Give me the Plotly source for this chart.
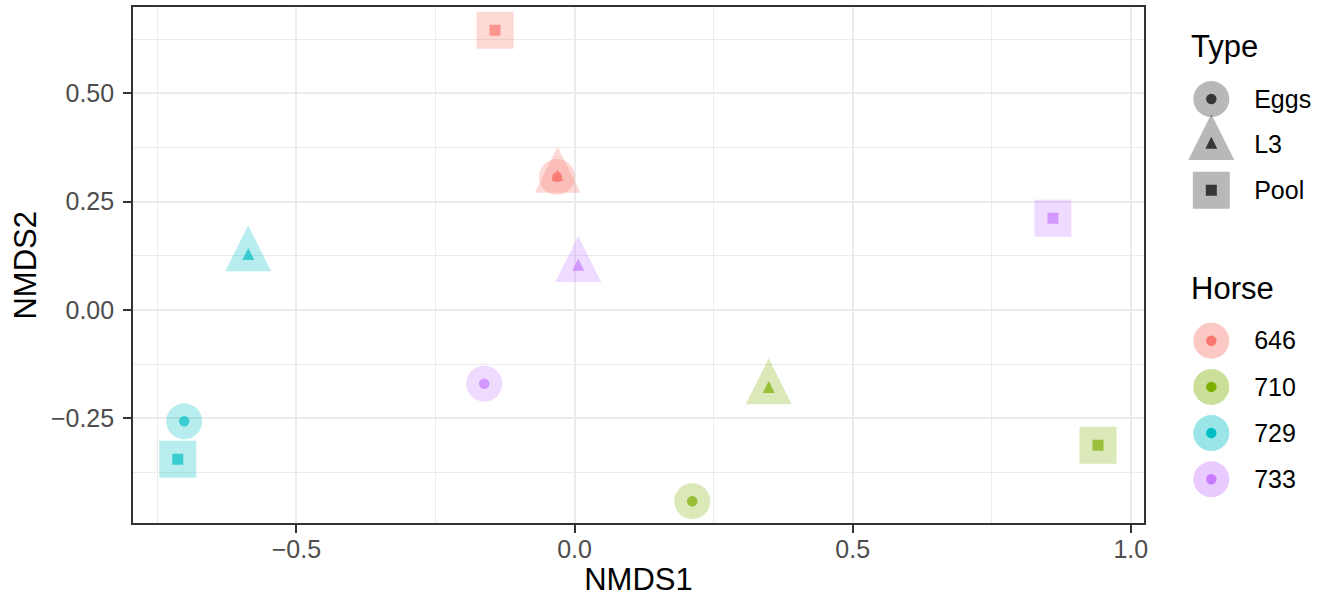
import plotly.graph_objects as go

# ---------------- data ----------------
horses = ["646", "710", "729", "733"]
horse_colors = ["#F8766D", "#7CAE00", "#00BFC4", "#C77CFF"]
types = ["Eggs", "L3", "Pool"]

sample_horse = ["646", "646", "646",
                "710", "710", "710",
                "729", "729", "729",
                "733", "733", "733"]
sample_type = ["Eggs", "L3", "Pool",
               "Eggs", "L3", "Pool",
               "Eggs", "L3", "Pool",
               "Eggs", "L3", "Pool"]
nmds1 = [-0.0315, -0.0306, -0.143,
         0.2115, 0.349, 0.941,
         -0.7018, -0.5866, -0.7133,
         -0.1624, 0.0066, 0.860]
nmds2 = [0.307, 0.306, 0.645,
         -0.441, -0.182, -0.312,
         -0.2567, 0.1248, -0.3443,
         -0.170, 0.0999, 0.2115]

x_tickvals = [-0.5, 0.0, 0.5, 1.0]
x_ticktext = ["\u22120.5", "0.0", "0.5", "1.0"]
y_tickvals = [-0.25, 0.0, 0.25, 0.50]
y_ticktext = ["\u22120.25", "0.00", "0.25", "0.50"]

# ---------------- styles ----------------
W, H = 1318, 597
FONT = "Liberation Sans, Arial, sans-serif"


def rgba(hexc, a):
    h = hexc.lstrip("#")
    r, g, b = int(h[0:2], 16), int(h[2:4], 16), int(h[4:6], 16)
    return f"rgba({r},{g},{b},{a})"


# shape per type: (symbol, big size, small size, angle, big standoff, small standoff)
BIG_TRI = 46
SMALL_TRI = 12
type_style = {
    "Eggs": ("circle", 36, 10.5, 0, 0, 0),
    "L3": ("arrow-down", BIG_TRI, SMALL_TRI, 180, BIG_TRI / 2 * 4 / 3, SMALL_TRI / 2 * 4 / 3),
    "Pool": ("square", 37, 11, 0, 0, 0),
}


def marker_arrays(tlist, big):
    sym, size, ang, so = [], [], [], []
    for t in tlist:
        s = type_style[t]
        sym.append(s[0])
        size.append(s[1] if big else s[2])
        ang.append(s[3])
        so.append(s[4] if big else s[5])
    return sym, size, ang, so


fig = go.Figure()

# big translucent markers
for h, c in zip(horses, horse_colors):
    idx = [i for i, hh in enumerate(sample_horse) if hh == h]
    tl = [sample_type[i] for i in idx]
    sym, size, ang, so = marker_arrays(tl, True)
    fig.add_trace(go.Scatter(
        x=[nmds1[i] for i in idx], y=[nmds2[i] for i in idx],
        mode="markers", showlegend=False, hoverinfo="skip",
        marker=dict(symbol=sym, size=size, angle=ang, standoff=so,
                    color=rgba(c, 0.4), line=dict(width=0)),
        xaxis="x", yaxis="y"))

# small solid markers
for h, c in zip(horses, horse_colors):
    idx = [i for i, hh in enumerate(sample_horse) if hh == h]
    tl = [sample_type[i] for i in idx]
    sym, size, ang, so = marker_arrays(tl, False)
    fig.add_trace(go.Scatter(
        x=[nmds1[i] for i in idx], y=[nmds2[i] for i in idx],
        mode="markers", showlegend=False,
        text=[f"Horse {h}, {t}" for t in tl], hoverinfo="text+x+y",
        marker=dict(symbol=sym, size=size, angle=ang, standoff=so,
                    color=c, line=dict(width=0)),
        xaxis="x", yaxis="y"))

# ---- legend keys drawn on small categorical axes ----
sym, size, ang, so = marker_arrays(types, True)
fig.add_trace(go.Scatter(x=[0] * len(types), y=types, mode="markers",
                         showlegend=False, hoverinfo="skip",
                         marker=dict(symbol=sym, size=size, angle=ang, standoff=so,
                                     color="rgba(0,0,0,0.4)", line=dict(width=0)),
                         xaxis="x2", yaxis="y2"))
sym, size, ang, so = marker_arrays(types, False)
fig.add_trace(go.Scatter(x=[0] * len(types), y=types, mode="markers",
                         showlegend=False, hoverinfo="skip",
                         marker=dict(symbol=sym, size=size, angle=ang, standoff=so,
                                     color="black", line=dict(width=0)),
                         xaxis="x2", yaxis="y2"))
fig.add_trace(go.Scatter(x=[0] * len(horses), y=horses, mode="markers",
                         showlegend=False, hoverinfo="skip",
                         marker=dict(symbol="circle", size=36,
                                     color=[rgba(c, 0.4) for c in horse_colors],
                                     line=dict(width=0)),
                         xaxis="x2", yaxis="y3"))
fig.add_trace(go.Scatter(x=[0] * len(horses), y=horses, mode="markers",
                         showlegend=False, hoverinfo="skip",
                         marker=dict(symbol="circle", size=10.5, color=horse_colors,
                                     line=dict(width=0)),
                         xaxis="x2", yaxis="y3"))

# ---------------- layout ----------------
px_l, px_r, px_t, px_b = 133.3, 1147.5, 7.3, 523.3
x_range = [-0.794, 1.0237]
y_range = [-0.4919, 0.6981]

grid_major = "#EBEBEB"
axis_common = dict(
    showline=True, linecolor="#333333", linewidth=2, mirror=True,
    ticks="outside", ticklen=7.7, tickwidth=2, tickcolor="#333333",
    showgrid=True, gridcolor=grid_major, gridwidth=2.4, zeroline=False,
    tickfont=dict(family=FONT, size=25, color="#4D4D4D"),
)

fig.update_layout(
    width=W, height=H,
    margin=dict(l=0, r=0, t=0, b=0),
    paper_bgcolor="white", plot_bgcolor="white",
    font=dict(family=FONT),
    showlegend=False,
    xaxis=dict(
        domain=[px_l / W, px_r / W], anchor="y", range=x_range,
        tickmode="array", tickvals=x_tickvals, ticktext=x_ticktext,
        minor=dict(tickvals=[-0.75, -0.25, 0.25, 0.75], showgrid=True,
                   gridcolor=grid_major, gridwidth=1.2, ticks=""),
        title=dict(text="NMDS1", font=dict(family=FONT, size=31, color="black"),
                   standoff=8),
        ticklabelstandoff=-5,
        **axis_common),
    yaxis=dict(
        domain=[1 - px_b / H, 1 - px_t / H], anchor="x", range=y_range,
        tickmode="array", tickvals=y_tickvals, ticktext=y_ticktext,
        minor=dict(tickvals=[-0.375, -0.125, 0.125, 0.375, 0.625], showgrid=True,
                   gridcolor=grid_major, gridwidth=1.2, ticks=""),
        title=dict(text="NMDS2", font=dict(family=FONT, size=31, color="black"),
                   standoff=5),
        ticklabelstandoff=4,
        **axis_common),
    xaxis2=dict(domain=[1173 / W, 1257 / W], anchor="y2", range=[-1, 1],
                visible=False, fixedrange=True),
    yaxis2=dict(domain=[1 - 213.2 / H, 1 - 76.2 / H], anchor="x2", side="right",
                type="category", categoryorder="array", categoryarray=types,
                range=[len(types) - 0.5, -0.5], showgrid=False, zeroline=False,
                showline=False, ticks="", fixedrange=True,
                tickfont=dict(family=FONT, size=25, color="black")),
    yaxis3=dict(domain=[1 - 502.4 / H, 1 - 317.6 / H], anchor="x2", side="right",
                type="category", categoryorder="array", categoryarray=horses,
                range=[len(horses) - 0.5, -0.5], showgrid=False, zeroline=False,
                showline=False, ticks="", fixedrange=True,
                tickfont=dict(family=FONT, size=25, color="black")),
    annotations=[
        dict(text="Type", x=1193 / W, y=1 - 46 / H, xref="paper", yref="paper",
             xanchor="left", yanchor="middle", showarrow=False,
             font=dict(family=FONT, size=31, color="black")),
        dict(text="Horse", x=1193 / W, y=1 - 288 / H, xref="paper", yref="paper",
             xanchor="left", yanchor="middle", showarrow=False,
             font=dict(family=FONT, size=31, color="black")),
    ],
)

fig.write_html("out.html", config={"displayModeBar": False},
               post_script="document.body.style.margin='0px';")
